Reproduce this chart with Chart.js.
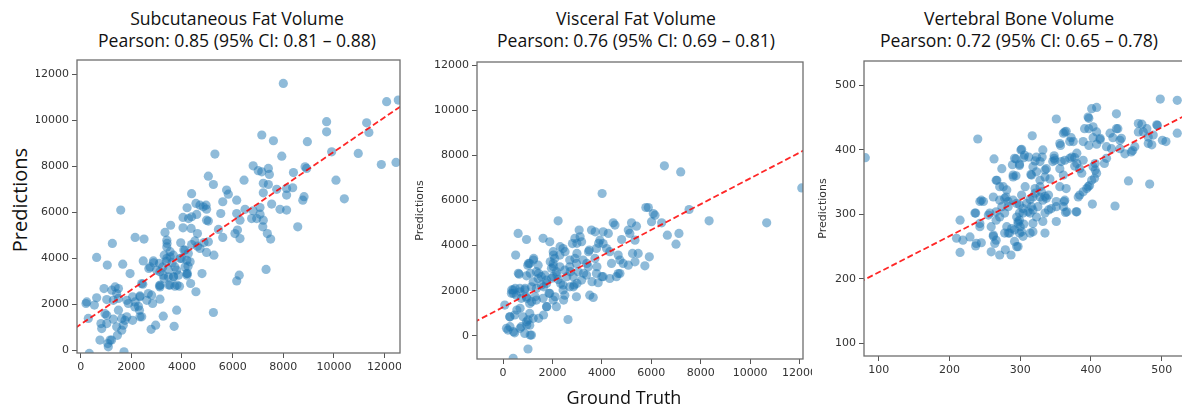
<!DOCTYPE html>
<html>
<head>
<meta charset="utf-8">
<script src="https://cdn.jsdelivr.net/npm/chart.js@4.4.1/dist/chart.umd.min.js"></script>
<style>
html, body { margin: 0; padding: 0; background: #fff; }
body { width: 1182px; height: 411px; overflow: hidden; position: relative; font-family: "Open Sans", sans-serif; }
canvas { position: absolute; }
.clip { position: absolute; top: 0; height: 411px; overflow: hidden; }
.title { position: absolute; top: 7px; transform: translateX(-50%); text-align: center; white-space: nowrap;
         font-size: 17.6px; font-weight: 500; line-height: 22px; color: #111; }
.big { position: absolute; font-size: 18px; color: #111; white-space: nowrap; transform: translate(-50%, -50%); }
</style>
</head>
<body>

<div class="title" style="left:237px">Subcutaneous Fat Volume<br>Pearson: 0.85 (95% CI: 0.81 – 0.88)</div>
<div class="title" style="left:636px">Visceral Fat Volume<br>Pearson: 0.76 (95% CI: 0.69 – 0.81)</div>
<div class="title" style="left:1019px">Vertebral Bone Volume<br>Pearson: 0.72 (95% CI: 0.65 – 0.78)</div>

<div class="clip" style="left:36px;width:365px">
  <canvas id="subChart" width="375" height="335" style="left:-9px;top:58px"></canvas>
</div>
<canvas id="visChart" width="398" height="339" style="left:414px;top:60px"></canvas>
<canvas id="vertChart" width="375" height="337" style="left:817px;top:59px"></canvas>

<div class="big" style="left:19px;top:200px;font-size:20px;transform:translate(-50%,-50%) rotate(-90deg)">Predictions</div>
<div class="big" style="left:624px;top:397px">Ground Truth</div>

<script>
// Datos: [ground truth, predicción]
const subcutaneous = [
  [8000,11590],[12080,10800],[12540,10870],[9710,9930],[9710,9490],[11290,9880],[11380,9460],[7150,9350],
  [7610,9100],[8950,9060],[9910,8620],[10960,8550],[5300,8520],[7940,8430],[11870,8070],[12450,8160],
  [6810,8010],[7410,7900],[8860,7970],[8920,7900],[7010,7800],[7150,7750],[7450,7640],[8400,7720],
  [5040,7560],[6450,7390],[10080,7390],[5240,7200],[7210,7250],[7410,7200],[8370,7060],[8130,7030],
  [7740,6990],[5760,6960],[5830,6780],[4380,6800],[7210,6840],[8130,6740],[8820,6670],[10410,6580],
  [5610,6450],[6160,6520],[8770,6520],[4550,6380],[4710,6300],[4840,6230],[4950,6300],[4200,6190],
  [4970,6130],[1580,6090],[7870,6120],[8130,6090],[7080,6200],[6810,6060],[6490,6120],[5530,5940],
  [6160,5940],[4580,5900],[4380,5800],[7080,5910],[7540,6350],[4040,5770],[4260,5720],[4970,5650],
  [5040,5610],[6290,5650],[6950,5720],[7210,5650],[6750,5720],[4360,5290],[4040,5320],[3330,5120],
  [3550,5430],[4610,5070],[5440,5250],[5610,4900],[6090,5070],[6190,5220],[7190,5360],[7370,5070],
  [7500,4830],[6290,4850],[8570,5360],[2150,4900],[2500,4830],[1250,4640],[3400,4780],[3950,4670],
  [4510,4750],[4870,4680],[5040,4710],[4380,4590],[4610,4520],[4710,4420],[3400,4490],[3530,4280],
  [4120,4350],[4250,4200],[4970,4250],[5260,4130],[630,4030],[1050,3700],[1660,3740],[2470,3880],
  [2870,3880],[3110,3770],[3400,3990],[3530,4060],[3660,4130],[3990,3990],[4190,3910],[4320,3840],
  [2740,3620],[3000,3480],[3130,3410],[3240,3620],[3460,3510],[3720,3620],[3790,3480],[4120,3620],
  [4190,3330],[1950,3330],[3260,3260],[3460,3190],[3660,3190],[3860,3260],[4790,3330],[3290,3120],
  [4210,3330],[7320,3510],[6260,3260],[6160,3010],[4340,2900],[3530,2830],[3720,2780],[3900,2780],
  [4550,2540],[920,2680],[1490,2680],[2410,2900],[2450,2870],[3110,2800],[3130,2750],[1420,2460],
  [1290,2170],[1030,2200],[630,2280],[240,2100],[210,2030],[540,1960],[1820,2170],[2050,2320],
  [2340,2360],[2670,2460],[2800,2390],[2610,2170],[2150,2100],[2280,1910],[2320,1740],[2410,1450],
  [2840,2030],[3130,2220],[3790,1740],[5240,1640],[3260,1480],[1030,1520],[800,1160],[300,1380],
  [1290,1350],[1750,1300],[1820,1450],[2050,1300],[830,940],[1030,1160],[1620,870],[1450,650],
  [760,440],[1220,440],[1070,290],[1090,150],[340,-140],[1710,-70],[2780,910],[2960,1090],[3690,1040],
  [2690,3550],[2880,3800],[3300,4130],[3410,4640],[3380,3860],[3610,3800],[3670,3190],[3140,2830],
  [3480,2830],[3800,2830],[4200,3260],[4240,3650],[3930,3990],[4070,4350],[960,1590],[1160,440],
  [1620,1380],[1420,1020],[1680,1090],[1490,1740],[2140,1880],[2340,1450],[1880,2030],[1490,2250],
  [2340,2320],[1230,2610],[1360,2750]
];
const visceral = [
  [12090,6560],[6530,7540],[7190,7270],[4010,6310],[2230,5100],[8340,5100],[10670,5010],[7530,5600],
  [5780,5690],[5880,5690],[6080,5420],[6150,5350],[6010,5060],[5200,5010],[5400,4860],[4460,5010],
  [4530,4910],[610,4540],[1620,4320],[1890,4170],[950,4270],[3080,4690],[3580,4690],[4050,4610],
  [4260,4540],[4800,4270],[5070,4690],[5130,4540],[6650,4460],[7120,4540],[7000,4060],[510,3580],
  [2810,4090],[2910,4320],[3180,4170],[2430,3870],[2030,3730],[1240,3430],[1080,3210],[1000,3130],
  [1420,3130],[650,2730],[950,2660],[1350,2840],[1690,2690],[3490,3800],[3780,3870],[3920,4240],
  [4050,4090],[4190,3870],[4320,3730],[3720,3430],[3240,3360],[2970,3210],[2700,3060],[2300,3060],
  [2030,3210],[1960,2990],[2160,2840],[2500,2910],[3040,2840],[3380,2690],[3780,2760],[4050,2620],
  [4320,2540],[4590,2620],[4730,2760],[4390,3210],[4660,3580],[4730,3360],[4860,3210],[5070,3130],
  [5240,3650],[5340,3280],[5740,3100],[5920,3500],[3850,2350],[3510,1800],[3650,1700],[2970,1730],
  [2880,2250],[2430,2250],[2630,720],[1760,2320],[1550,2250],[1350,2100],[1150,2170],[880,2030],
  [680,2100],[410,2030],[340,1880],[540,1800],[740,1660],[950,1730],[1080,1430],[1350,1580],
  [1620,1660],[1890,1880],[2030,1580],[2160,1290],[1760,1290],[1860,1880],[70,1360],[270,840],
  [470,920],[810,840],[1080,990],[950,620],[1220,770],[200,250],[140,330],[470,130],[880,100],
  [1150,30],[1080,470],[740,400],[1010,-590],[410,-1000],[1420,2540],[2230,2500],[2430,2030],
  [2700,2170],[2500,1800],[2840,2620],[3180,2470],[3450,3060],[2910,3430],[2300,3580],[2090,3430],
  [2700,3360],[1550,2620],[1220,2390],[1760,2470],[2030,2620],[5340,4240],[5470,3650],[4660,2760],
  [6420,5010],[1030,3210],[1230,3360],[620,2770],[1100,2770],[1440,2770],[350,2030],[490,2100],
  [420,1880],[690,1950],[890,2100],[960,1660],[1300,1730],[1640,2170],[1160,1510],[690,1220],
  [560,1140],[280,840],[280,400],[420,180],[690,330],[960,480],[1100,30],[1010,700],[1640,920],
  [1440,770],[1910,3280],[2040,3060],[2180,2690],[1970,2550],[2330,2320],[2110,1730],[2450,1580],
  [1770,1290],[2580,2620],[2720,2840],[2990,2320],[2850,2170],[3260,2770],[3390,3210],[3800,3060],
  [4000,2620],[3600,2400],[2990,4100],[3120,4390],[3730,4610],[3870,4100],[2310,3950],[2510,3730],
  [2040,3580],[2990,3650],[3460,3730]
];
const vertebral = [
  [81,388],[240,417],[498,479],[522,477],[522,426],[483,347],[453,352],[434,313],[402,316],[401,464],
  [408,466],[436,456],[351,448],[397,449],[397,433],[391,433],[438,433],[427,426],[317,422],[365,429],
  [361,426],[372,419],[375,413],[403,419],[413,416],[431,419],[443,418],[422,405],[408,409],[397,407],
  [357,407],[302,401],[292,387],[305,388],[299,376],[312,389],[331,389],[348,391],[348,387],[346,382],
  [321,383],[263,386],[294,360],[315,362],[323,366],[335,358],[337,371],[342,355],[361,361],[356,371],
  [363,384],[370,387],[377,388],[380,379],[384,371],[377,375],[387,364],[403,374],[406,379],[419,379],
  [408,364],[405,356],[398,345],[394,340],[389,335],[382,327],[380,304],[365,340],[356,343],[362,320],
  [364,303],[351,320],[344,309],[351,289],[335,328],[332,322],[337,325],[330,335],[328,343],[321,340],
  [318,327],[314,323],[309,317],[304,309],[299,302],[295,296],[297,289],[300,281],[292,276],[285,271],
  [278,271],[281,281],[299,271],[304,266],[314,271],[318,273],[335,271],[297,250],[292,258],[287,237],
  [279,245],[271,237],[259,242],[215,241],[210,263],[215,291],[219,260],[229,265],[237,251],[245,256],
  [243,281],[237,302],[243,320],[248,320],[255,299],[259,281],[262,266],[266,260],[262,327],[266,353],
  [271,343],[276,343],[271,322],[274,312],[280,327],[283,320],[278,302],[271,296],[266,291],[290,361],
  [299,378],[289,377],[301,400],[266,304],[290,322],[295,317],[299,315],[304,302],[318,307],[325,312],
  [323,296],[314,302],[335,302],[340,307],[299,291],[305,285],[318,286],[332,289],[441,402],[448,394],
  [457,397],[467,441],[472,440],[479,433],[474,428],[481,420],[488,423],[481,410],[486,408],[493,439],
  [501,415],[506,413],[467,428],[462,405],[294,386],[306,392],[290,358],[267,353],[245,322],[236,302],
  [278,325],[283,312],[257,302],[243,286],[238,255],[262,268],[264,255],[295,250],[283,271],[288,278],
  [297,286],[302,273],[311,304],[316,312],[321,333],[328,327],[340,330],[328,353],[335,369],[318,374],
  [349,384],[358,382],[373,389],[380,395],[389,384],[406,369],[401,353],[396,343],[384,330],[363,322],
  [351,312],[361,312],[379,304],[422,387],[429,402],[441,415],[436,433],[494,438],[459,399],[408,428],
  [403,436],[396,451],[413,418],[389,413],[370,413],[363,428],[356,410],[332,400],[323,389],[328,382],
  [316,361],[307,343],[302,330],[281,338],[274,371],[366,304]
];

// Recta de regresión (extremos)
const subFit = [[-500, 750], [13000, 10870]];
const visFit = [[-1500, 410], [12500, 8410]];
const vertFit = [[50, 182], [600, 491]];

// Marcas de los ejes
const volumeTicks = [0, 2000, 4000, 6000, 8000, 10000, 12000];
const boneXTicks = [100, 200, 300, 400, 500];
const boneYTicks = [100, 200, 300, 400, 500];

// Marco completo alrededor del área del gráfico (como los spines de matplotlib)
const framePlugin = {
  id: 'frame',
  afterDraw(chart) {
    const { ctx, chartArea: a } = chart;
    ctx.save();
    ctx.strokeStyle = '#6e6e6e';
    ctx.lineWidth = 1.3;
    ctx.strokeRect(a.left, a.top, a.right - a.left, a.bottom - a.top);
    ctx.restore();
  }
};

const tickFont = { family: 'DejaVu Sans', size: 11 };

// Tamaño fijo de cada eje, sin el relleno automático de Chart.js
function fixSize(prop, size) {
  return s => {
    s[prop] = size;
    s.paddingTop = 0; s.paddingBottom = 0; s.paddingLeft = 0; s.paddingRight = 0;
  };
}

function axis(min, max, ticks, fit, title) {
  return {
    type: 'linear',
    min: min,
    max: max,
    afterBuildTicks: s => { s.ticks = ticks.map(v => ({ value: v })); },
    afterFit: fit,
    grid: { drawOnChartArea: false, drawTicks: true, tickLength: 5, color: '#555' },
    border: { display: false },
    ticks: { font: tickFont, color: '#333', padding: 3, maxRotation: 0, autoSkip: false, callback: v => String(v) },
    title: title ? { display: true, text: title, font: tickFont, color: '#333', padding: 0 } : { display: false }
  };
}

function scatterPanel(id, points, fit, xr, yr, xTicks, yTicks, yWidth, yTitle, padRight) {
  new Chart(document.getElementById(id), {
    type: 'scatter',
    data: {
      datasets: [
        {
          type: 'line',
          data: fit.map(p => ({ x: p[0], y: p[1] })),
          borderColor: 'rgba(255, 0, 0, 0.85)',
          borderWidth: 1.8,
          borderDash: [6, 3],
          pointRadius: 0,
          fill: false,
          clip: 0
        },
        {
          data: points.map(p => ({ x: p[0], y: p[1] })),
          backgroundColor: 'rgba(31, 119, 180, 0.5)',
          borderWidth: 0,
          pointRadius: 4.6,
          clip: 0
        }
      ]
    },
    options: {
      responsive: false,
      animation: false,
      events: [],
      layout: { autoPadding: false, padding: { top: 2, right: padRight, bottom: 0, left: 0 } },
      plugins: { legend: { display: false }, tooltip: { enabled: false } },
      scales: {
        x: axis(xr[0], xr[1], xTicks, fixSize('height', 40)),
        y: axis(yr[0], yr[1], yTicks, fixSize('width', yWidth), yTitle)
      }
    },
    plugins: [framePlugin]
  });
}

scatterPanel('subChart', subcutaneous, subFit, [-146, 12608], [-120, 12609], volumeTicks, volumeTicks, 50, null, 2);
scatterPanel('visChart', visceral, visFit, [-1054, 12140], [-1033, 12146], volumeTicks, volumeTicks, 63, 'Predictions', 9);
scatterPanel('vertChart', vertebral, vertFit, [79.2, 540], [80.3, 538], boneXTicks, boneYTicks, 47, 'Predictions', 2);
</script>
</body>
</html>
